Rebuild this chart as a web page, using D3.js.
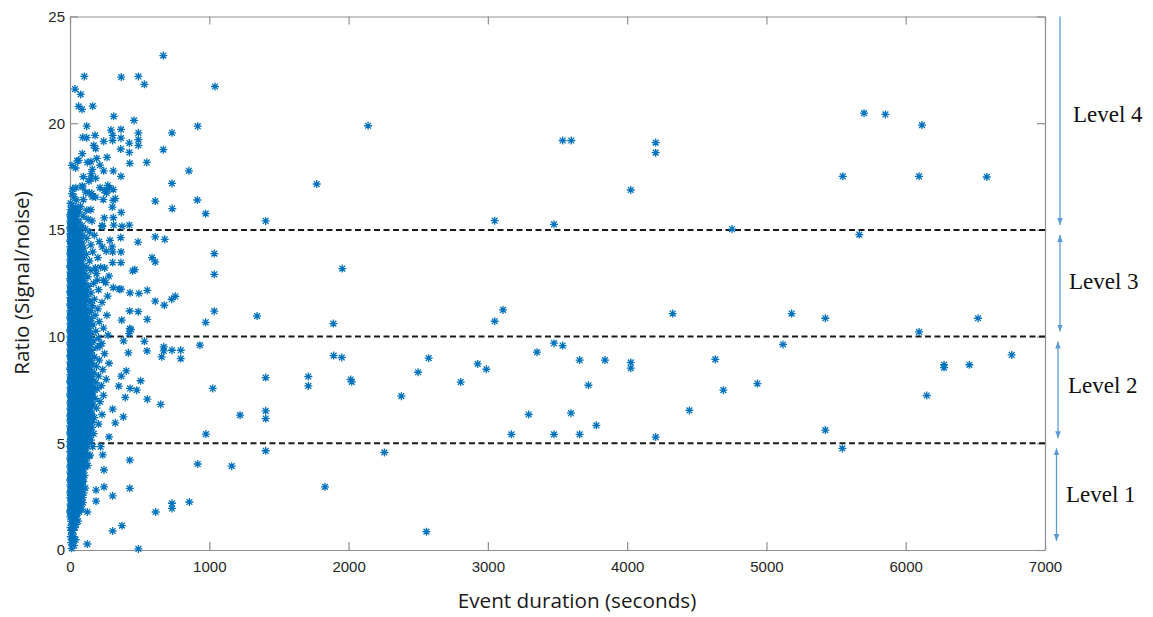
<!DOCTYPE html>
<html>
<head>
<meta charset="utf-8">
<script src="https://cdn.jsdelivr.net/npm/d3@7"></script>
<style>
  body { margin: 0; background: #fff; }
  svg { display: block; }
</style>
</head>
<body>
<svg id="chart" width="1153" height="617"></svg>
<script>
// ---- Data -------------------------------------------------------------
const xTicks = [0, 1000, 2000, 3000, 4000, 5000, 6000, 7000];
const yTicks = [0, 5, 10, 15, 20, 25];
const levelBoundaries = [5, 10, 15];
const levelNames = ["Level 1", "Level 2", "Level 3", "Level 4"];
const levelRanges = [[0, 5], [5, 10], [10, 15], [15, 25]];
const levelLabelRatio = [2.6, 7.7, 12.6, 20.4];

// Short events, grouped by ratio: [ratio, [durations in seconds]]
const shortEventRows = [
  [0.08, [12]], [0.22, [30]], [0.35, [8]], [0.48, [18, 40]], [0.62, [6, 28]],
  [0.78, [14]], [0.92, [22, 9]], [1.05, [35, 4]], [1.2, [16, 44]], [1.35, [8, 27, 58]],
  [1.55, [2, 14, 27, 40]], [1.7, [7, 21, 35, 52]], [1.85, [3, 16, 30, 44, 62]],
  [2.0, [9, 23, 38, 55, 74]], [2.15, [4, 17, 31, 47, 66]], [2.3, [11, 25, 40, 58, 80]],
  [2.45, [2, 15, 29, 45, 63, 92]], [2.6, [8, 22, 36, 51, 70]], [2.75, [5, 18, 33, 49, 67, 85]],
  [2.9, [12, 26, 41, 57, 76, 110]], [3.05, [3, 16, 30, 46, 62, 88]], [3.2, [9, 23, 38, 54, 72, 96]],
  [3.35, [6, 19, 34, 50, 68, 84]], [3.5, [13, 27, 42, 58, 77, 105]], [3.65, [2, 16, 31, 47, 64, 90]],
  [3.8, [10, 24, 39, 55, 73, 98]], [3.95, [5, 19, 35, 51, 69, 86, 128]], [4.1, [12, 27, 43, 59, 78, 102]],
  [4.25, [3, 17, 32, 48, 66, 93]], [4.4, [9, 24, 40, 56, 74, 97, 138]], [4.55, [6, 20, 36, 52, 71, 88, 115]],
  [4.7, [13, 28, 44, 61, 80, 104]], [4.85, [2, 17, 33, 49, 67, 92, 126]], [5.0, [10, 25, 41, 58, 76, 99, 120]],
  [5.15, [5, 20, 36, 53, 72, 94, 118, 150]], [5.3, [13, 29, 45, 62, 83, 107, 140]],
  [5.45, [3, 18, 34, 51, 70, 91, 112, 170]], [5.6, [9, 25, 42, 60, 80, 103, 130]],
  [5.75, [6, 21, 38, 56, 75, 97, 122, 158]], [5.9, [14, 30, 47, 65, 86, 110, 136, 205]],
  [6.05, [2, 18, 35, 53, 72, 94, 118, 146]], [6.2, [10, 26, 43, 61, 81, 104, 128, 175]],
  [6.35, [5, 22, 39, 57, 77, 100, 124, 155, 230]], [6.5, [13, 30, 48, 67, 88, 113, 140]],
  [6.65, [3, 19, 36, 54, 74, 96, 120, 148, 190]], [6.8, [9, 26, 44, 63, 84, 108, 134, 165]],
  [6.95, [6, 23, 41, 60, 80, 103, 128, 215]], [7.1, [14, 31, 49, 69, 91, 116, 143, 180]],
  [7.25, [2, 19, 37, 56, 76, 99, 124, 152, 240]], [7.4, [10, 27, 45, 65, 86, 110, 137, 168]],
  [7.55, [5, 22, 40, 59, 79, 102, 127, 157, 196]], [7.7, [13, 30, 48, 68, 90, 114, 141, 225]],
  [7.85, [3, 20, 38, 57, 78, 101, 126, 150, 185]], [8.0, [9, 26, 44, 63, 84, 107, 133, 162, 260]],
  [8.15, [6, 23, 41, 60, 81, 104, 129, 205]], [8.3, [14, 31, 49, 68, 89, 112, 138, 172]],
  [8.45, [2, 19, 37, 56, 76, 98, 122, 148, 235]], [8.6, [10, 27, 45, 64, 85, 108, 134, 190]],
  [8.75, [5, 22, 40, 59, 79, 101, 125, 160, 280]], [8.9, [13, 30, 48, 67, 88, 111, 145, 210]],
  [9.05, [3, 20, 38, 57, 77, 99, 123, 175]], [9.2, [9, 26, 44, 63, 83, 106, 135, 248]],
  [9.35, [6, 23, 41, 60, 80, 102, 128, 160]], [9.5, [14, 31, 49, 68, 89, 115, 195]],
  [9.65, [2, 19, 37, 56, 76, 98, 124, 150]], [9.8, [10, 27, 45, 64, 84, 108, 170]],
  [9.95, [5, 22, 40, 59, 79, 100, 132, 205]], [10.1, [13, 30, 48, 66, 86, 112, 150]],
  [10.25, [3, 20, 38, 56, 75, 96, 125, 185]], [10.4, [9, 26, 44, 62, 82, 105, 140, 240]],
  [10.55, [6, 23, 41, 59, 78, 100, 118, 165]], [10.7, [14, 31, 49, 67, 88, 130, 210]],
  [10.85, [2, 19, 37, 55, 74, 95, 155]], [11.0, [10, 27, 45, 63, 83, 108, 180, 265]],
  [11.15, [5, 22, 40, 58, 77, 98, 138]], [11.3, [13, 30, 48, 66, 86, 120, 200]],
  [11.45, [3, 20, 38, 56, 75, 95, 160]], [11.6, [9, 26, 44, 62, 81, 110, 145, 230]],
  [11.75, [6, 23, 41, 59, 78, 100, 175]], [11.9, [14, 31, 49, 67, 88, 125, 270]],
  [12.05, [2, 19, 37, 55, 74, 98, 150]], [12.2, [10, 27, 45, 63, 83, 115, 205]],
  [12.35, [5, 22, 40, 57, 76, 135]], [12.5, [13, 30, 48, 65, 85, 110, 170]],
  [12.65, [3, 20, 38, 55, 73, 95, 240]], [12.8, [9, 26, 44, 61, 80, 128]],
  [12.95, [6, 23, 41, 58, 76, 105, 190]], [13.1, [14, 31, 48, 65, 88, 150]],
  [13.25, [2, 19, 36, 53, 71, 120, 220]], [13.4, [10, 27, 44, 61, 82]],
  [13.55, [5, 22, 39, 56, 75, 140]], [13.7, [13, 30, 47, 64, 95, 200]],
  [13.85, [3, 20, 37, 54, 72, 118]], [14.0, [9, 26, 43, 60, 85, 260]],
  [14.15, [6, 23, 40, 57, 100]], [14.3, [14, 31, 48, 66, 150]],
  [14.45, [2, 19, 36, 53, 78, 210]], [14.6, [10, 27, 44, 62, 120]],
  [14.75, [5, 22, 39, 56, 90, 175]], [14.9, [13, 30, 47, 70, 140]],
  [15.05, [3, 20, 37, 55, 110]], [15.2, [9, 26, 43, 85, 230]], [15.35, [6, 22, 40, 65]],
  [15.5, [12, 28, 50, 130]], [15.65, [3, 18, 36, 95]], [15.8, [9, 25, 55]],
  [15.95, [5, 20, 40, 150]], [16.1, [12, 75]], [16.25, [4]], [16.4, [45]],
  [16.55, [28, 160]], [16.7, [15]], [17.0, [90]], [17.9, [40]], [18.2, [150]]
];

// More short events, interleaved between the rows above
const shortEventRowsB = [
  [1.62, [10, 24, 48]], [1.78, [1, 18, 40, 66]], [1.92, [13, 27, 50, 85]], [2.08, [6, 20, 44, 70]],
  [2.22, [14, 35, 52, 92]], [2.38, [7, 21, 33, 68]], [2.52, [12, 26, 42, 58, 78]],
  [2.68, [1, 15, 29, 60, 98]], [2.82, [9, 24, 44, 72]], [2.98, [6, 20, 35, 52, 65]],
  [3.12, [14, 28, 42, 80]], [3.28, [1, 13, 27, 44, 62, 92]], [3.42, [8, 22, 38, 72]],
  [3.58, [6, 20, 36, 52, 84]], [3.72, [13, 28, 45, 63]], [3.88, [1, 15, 28, 44, 78, 108]],
  [4.02, [7, 21, 37, 52, 90]], [4.18, [10, 24, 40, 72, 118]], [4.32, [1, 14, 28, 44, 61, 84]],
  [4.48, [15, 30, 46, 65, 80]], [4.62, [2, 11, 25, 42, 58, 96]], [4.78, [8, 22, 38, 56, 76, 112]],
  [4.92, [5, 18, 31, 46, 64, 84]], [5.08, [1, 15, 30, 48, 66, 88, 135]],
  [5.22, [8, 23, 40, 57, 77, 98, 125]], [5.38, [5, 21, 38, 55, 75, 96, 124]],
  [5.52, [1, 14, 30, 46, 65, 86, 118, 145]], [5.68, [11, 28, 45, 64, 86, 108, 140]],
  [5.82, [1, 17, 34, 52, 70, 92, 115]], [5.98, [8, 25, 42, 60, 79, 102, 128, 160]],
  [6.12, [5, 22, 40, 58, 78, 99, 122]], [6.28, [1, 16, 32, 50, 70, 90, 113, 138]],
  [6.42, [8, 25, 42, 60, 80, 102, 128, 150]], [6.58, [4, 21, 39, 58, 78, 100, 126]],
  [6.72, [12, 30, 48, 68, 90, 114, 140]], [6.88, [1, 18, 36, 54, 72, 94, 118, 155]],
  [7.02, [9, 27, 45, 64, 85, 108, 135]], [7.18, [5, 22, 40, 59, 79, 102, 128, 160]],
  [7.32, [1, 14, 32, 51, 72, 94, 118, 145]], [7.48, [8, 25, 43, 62, 82, 105, 130]],
  [7.62, [4, 20, 38, 56, 76, 98, 122, 170]], [7.78, [11, 28, 46, 65, 86, 110, 135]],
  [7.92, [1, 16, 34, 52, 70, 92, 118, 145]], [8.08, [8, 25, 43, 62, 82, 100, 122]],
  [8.22, [4, 20, 37, 55, 74, 95, 116, 155]], [8.38, [10, 28, 46, 64, 85, 108, 130]],
  [8.52, [1, 16, 33, 51, 70, 92, 115]], [8.68, [7, 24, 42, 60, 80, 100, 142]],
  [8.82, [3, 19, 36, 54, 73, 94, 118]], [8.98, [10, 28, 46, 65, 85, 108]],
  [9.12, [1, 16, 34, 52, 71, 92, 150]], [9.28, [8, 25, 43, 61, 80, 115]],
  [9.42, [3, 20, 38, 56, 76, 96, 135]], [9.58, [10, 28, 45, 64, 84, 105]],
  [9.72, [1, 15, 33, 51, 70, 92, 120]], [9.88, [8, 25, 42, 60, 80, 98, 145]],
  [10.02, [3, 19, 37, 55, 74, 94]], [10.18, [10, 27, 45, 63, 82, 102, 130]],
  [10.32, [1, 15, 32, 50, 68, 88, 115]], [10.48, [7, 24, 42, 60, 80, 98]],
  [10.62, [3, 19, 36, 54, 72, 92, 145]], [10.78, [10, 27, 45, 63, 82, 110]],
  [10.92, [1, 15, 32, 50, 68, 88, 125]], [11.08, [7, 24, 42, 60, 80, 98]],
  [11.22, [3, 19, 36, 54, 72, 90, 150]], [11.38, [10, 27, 45, 63, 82, 105]],
  [11.52, [1, 15, 32, 50, 68, 88]], [11.68, [7, 24, 42, 60, 78, 95, 130]],
  [11.82, [3, 19, 36, 54, 72, 90]], [11.98, [10, 27, 45, 63, 82, 110]],
  [12.12, [1, 15, 32, 50, 68, 86]], [12.28, [7, 24, 42, 60, 78, 96]],
  [12.42, [3, 19, 36, 54, 70, 88]], [12.58, [10, 27, 45, 62, 80]],
  [12.72, [1, 15, 32, 50, 66, 85]], [12.88, [7, 24, 42, 58, 74]],
  [13.02, [3, 19, 36, 52, 68, 92]], [13.18, [10, 27, 44, 60, 78]],
  [13.32, [1, 15, 32, 48, 64, 95]], [13.48, [7, 24, 40, 56, 70]],
  [13.62, [3, 19, 35, 50, 66, 85]], [13.78, [10, 26, 42, 58, 75]],
  [13.92, [1, 15, 30, 46, 62]], [14.08, [7, 22, 38, 54, 72]],
  [14.22, [3, 18, 34, 50, 64]], [14.38, [10, 25, 40, 56, 88]],
  [14.52, [1, 15, 30, 46, 60]], [14.68, [7, 22, 38, 52, 72]],
  [14.82, [3, 18, 33, 48, 62]], [14.98, [9, 24, 40, 58]],
  [15.12, [2, 16, 30, 46]], [15.28, [8, 22, 36]], [15.42, [3, 16, 30]],
  [15.58, [8, 24]], [15.72, [2]]
];

// Medium events: [duration (s), ratio]
const mediumEvents = [
  [670, 23.17], [1041, 21.72], [917, 19.86], [854, 17.77], [732, 17.18], [732, 19.55],
  [670, 18.76], [551, 18.16], [534, 21.82], [491, 22.19], [368, 22.16], [103, 22.19],
  [36, 21.6], [77, 21.35], [62, 20.79], [86, 20.65], [163, 20.8], [314, 20.32], [460, 20.13],
  [120, 19.86], [366, 19.71], [294, 19.68], [91, 19.34], [120, 19.32], [180, 19.43],
  [306, 19.43], [366, 19.3], [491, 19.55], [491, 19.23], [491, 18.96], [242, 19.15],
  [306, 19.19], [426, 19.07], [170, 18.96], [184, 18.81], [88, 18.57], [192, 18.35],
  [266, 18.4], [364, 18.79], [426, 18.63], [52, 18.23], [62, 18.26], [124, 18.16],
  [215, 18.04], [14, 18.02], [429, 18.12], [242, 17.77], [311, 17.77], [96, 17.49],
  [153, 17.64], [184, 17.42], [136, 17.28], [366, 17.51], [271, 17.09], [285, 16.96],
  [88, 17.06], [19, 16.93], [43, 16.98], [113, 16.77], [139, 16.73], [156, 16.7],
  [246, 16.85], [263, 16.73], [311, 16.89], [160, 17.84], [149, 17.4], [215, 16.98],
  [184, 16.54], [96, 16.42], [239, 16.42], [311, 16.39], [325, 16.47], [304, 16.07],
  [612, 16.35], [914, 16.4], [734, 16.0], [974, 15.76], [41, 16.07], [65, 15.84],
  [120, 15.92], [246, 15.56], [311, 15.58], [368, 15.82], [158, 15.42], [232, 15.17],
  [314, 15.22], [373, 15.17], [426, 15.22], [364, 14.64], [488, 14.43], [612, 14.67],
  [680, 14.56], [287, 14.51], [302, 14.2], [232, 14.2], [163, 13.97], [306, 13.97],
  [366, 13.97], [589, 13.7], [612, 13.5], [306, 13.47], [366, 13.47], [1036, 13.89],
  [1036, 12.92], [182, 13.22], [249, 13.22], [450, 13.08], [465, 13.14], [280, 12.83],
  [196, 12.64], [256, 12.53], [311, 12.3], [354, 12.22], [366, 12.22], [431, 12.05],
  [495, 12.02], [555, 12.17], [612, 11.66], [677, 11.47], [730, 11.75], [756, 11.89],
  [1036, 11.19], [1343, 10.96], [974, 10.67], [429, 11.2], [490, 11.17], [371, 10.77],
  [555, 10.81], [429, 10.38], [385, 9.8], [424, 10.14], [438, 10.33], [534, 9.78],
  [553, 9.33], [658, 9.05], [673, 9.52], [673, 9.33], [732, 9.36], [795, 9.36],
  [795, 8.97], [933, 9.6], [1025, 7.57], [1221, 6.32], [976, 5.43], [917, 4.03],
  [1161, 3.93], [857, 2.25], [732, 2.19], [732, 1.95], [615, 1.78], [373, 1.14],
  [306, 0.89], [491, 0.05], [124, 0.28], [124, 1.78], [187, 2.29], [187, 2.81],
  [244, 2.96], [306, 2.54], [429, 2.89], [429, 4.21], [244, 3.75], [235, 4.46],
  [163, 4.84], [220, 4.84], [144, 4.45], [280, 5.3], [325, 5.96], [383, 6.24],
  [306, 6.6], [555, 7.07], [651, 6.82], [397, 7.15], [431, 7.57], [479, 7.49],
  [507, 7.93], [350, 7.68], [404, 8.39], [368, 8.15], [419, 9.24], [273, 10.07],
  [215, 9.55], [228, 9.68]
];

// Long events: [duration (s), ratio]
const longEvents = [
  [1405, 15.42], [1405, 8.08], [1405, 6.52], [1405, 6.16], [1405, 4.65],
  [1771, 17.15], [2140, 19.88], [1955, 13.19], [3049, 15.43], [3475, 15.26],
  [3537, 19.19], [3599, 19.19], [4026, 16.87], [4205, 19.09], [4205, 18.62],
  [4753, 15.04], [5548, 17.51], [5667, 14.78], [5701, 20.47], [5854, 20.41],
  [6096, 17.51], [6117, 19.91], [6582, 17.48],
  [1711, 8.13], [1711, 7.69], [1891, 10.61], [1893, 9.11], [1951, 9.02],
  [2015, 7.99], [2023, 7.88], [1831, 2.96], [2257, 4.57], [2379, 7.21],
  [2499, 8.33], [2575, 8.99], [2559, 0.86], [2805, 7.87], [2927, 8.72],
  [2989, 8.47], [3049, 10.72], [3109, 11.25], [3169, 5.42], [3293, 6.35],
  [3353, 9.27], [3475, 9.69], [3537, 9.58], [3475, 5.42], [3597, 6.41],
  [3659, 8.9], [3659, 5.42], [3722, 7.72], [3779, 5.84], [3841, 8.9],
  [4026, 8.79], [4026, 8.52], [4205, 5.29], [4327, 11.08], [4447, 6.54],
  [4633, 8.93], [4691, 7.49], [4935, 7.8], [5119, 9.63], [5181, 11.08],
  [5423, 10.86], [5423, 5.62], [5545, 4.76], [6096, 10.22], [6151, 7.24],
  [6275, 8.68], [6275, 8.55], [6457, 8.68], [6519, 10.86], [6761, 9.14]
];

// ---- Layout -----------------------------------------------------------
const plot = { left: 70, right: 1045, top: 16.5, bottom: 550 };
const pointColor = "#0072BD";
const axisColor = "#8f8f8f";
const arrowColor = "#5b9bd5";

const svg = d3.select("#chart");

const x = d3.scaleLinear().domain([0, 7000]).range([plot.left, plot.right]);
const y = d3.scaleLinear().domain([0, 25]).range([plot.bottom, plot.top]);

// ---- Axes (box with inward ticks) -------------------------------------
const tickFont = "'Liberation Sans', Arial, sans-serif";

function styleAxis(g) {
  g.select(".domain").attr("stroke", axisColor).attr("stroke-width", 1.2);
  g.selectAll(".tick line").attr("stroke", axisColor).attr("stroke-width", 1.2);
  g.selectAll(".tick text")
    .attr("fill", "#262626")
    .style("font-family", tickFont)
    .style("font-size", "15px");
}

svg.append("g")
  .attr("transform", `translate(0,${plot.bottom})`)
  .call(d3.axisBottom(x).tickValues(xTicks).tickFormat(d3.format("d"))
    .tickSize(-8).tickSizeOuter(0).tickPadding(11))
  .call(styleAxis);

svg.append("g")
  .attr("transform", `translate(0,${plot.top})`)
  .call(d3.axisTop(x).tickValues(xTicks).tickSize(-8).tickSizeOuter(0).tickFormat(() => ""))
  .call(styleAxis);

svg.append("g")
  .attr("transform", `translate(${plot.left},0)`)
  .call(d3.axisLeft(y).tickValues(yTicks).tickFormat(d3.format("d"))
    .tickSize(-8).tickSizeOuter(0).tickPadding(5))
  .call(styleAxis);

svg.append("g")
  .attr("transform", `translate(${plot.right},0)`)
  .call(d3.axisRight(y).tickValues(yTicks).tickSize(-8).tickSizeOuter(0).tickFormat(() => ""))
  .call(styleAxis);

// ---- Level thresholds -------------------------------------------------
svg.append("g")
  .selectAll("line")
  .data(levelBoundaries)
  .join("line")
  .attr("x1", plot.left)
  .attr("x2", plot.right)
  .attr("y1", d => y(d))
  .attr("y2", d => y(d))
  .attr("stroke", "#1a1a1a")
  .attr("stroke-width", 2)
  .attr("stroke-dasharray", "6,3.5");

// ---- Points -----------------------------------------------------------
const toPairs = rows => rows.flatMap(([ratio, durations]) => durations.map(d => [d, ratio]));
const allEvents = toPairs(shortEventRows).concat(toPairs(shortEventRowsB), mediumEvents, longEvents);

const star = "M-4,0H4M0,-4V4M-2.9,-2.9L2.9,2.9M-2.9,2.9L2.9,-2.9";

svg.append("g")
  .selectAll("path")
  .data(allEvents)
  .join("path")
  .attr("transform", d => `translate(${x(d[0])},${y(d[1])})`)
  .attr("d", star)
  .attr("fill", "none")
  .attr("stroke", pointColor)
  .attr("stroke-width", 1.3);

// ---- Axis titles ------------------------------------------------------
const titleFont = "'Open Sans', 'Noto Sans', sans-serif";

svg.append("text")
  .attr("x", 577)
  .attr("y", 608)
  .attr("text-anchor", "middle")
  .attr("fill", "#1a1a1a")
  .style("font-family", titleFont)
  .style("font-size", "20.7px")
  .text("Event duration (seconds)");

svg.append("text")
  .attr("transform", `translate(29,283) rotate(-90)`)
  .attr("text-anchor", "middle")
  .attr("fill", "#1a1a1a")
  .style("font-family", titleFont)
  .style("font-size", "20.7px")
  .text("Ratio (Signal/noise)");

// ---- Level arrows and labels ------------------------------------------
const defs = svg.append("defs");
defs.append("marker")
  .attr("id", "head")
  .attr("viewBox", "0 0 10 10")
  .attr("refX", 10).attr("refY", 5)
  .attr("markerWidth", 7).attr("markerHeight", 7)
  .attr("markerUnits", "userSpaceOnUse")
  .attr("orient", "auto-start-reverse")
  .append("path")
  .attr("d", "M0,1L10,5L0,9Z")
  .attr("fill", arrowColor);

const arrowX = [1056.5, 1058, 1060, 1060];
const labelX = [1066, 1068, 1069, 1073];
const gap = 5;

levelRanges.forEach(([lo, hi], i) => {
  const isTop = i === levelRanges.length - 1;
  const yTop = isTop ? y(hi) : y(hi) + gap;
  const yBot = i === 0 ? y(lo) - 9 : y(lo) - gap;
  const line = svg.append("line")
    .attr("x1", arrowX[i]).attr("x2", arrowX[i])
    .attr("y1", yTop).attr("y2", yBot)
    .attr("stroke", arrowColor)
    .attr("stroke-width", 1.3)
    .attr("marker-end", "url(#head)");
  if (!isTop) line.attr("marker-start", "url(#head)");

  svg.append("text")
    .attr("x", labelX[i])
    .attr("y", y(levelLabelRatio[i]))
    .attr("dy", "0.33em")
    .attr("fill", "#111")
    .style("font-family", "'Liberation Serif', 'Times New Roman', serif")
    .style("font-size", "23px")
    .text(levelNames[i]);
});
</script>
</body>
</html>
